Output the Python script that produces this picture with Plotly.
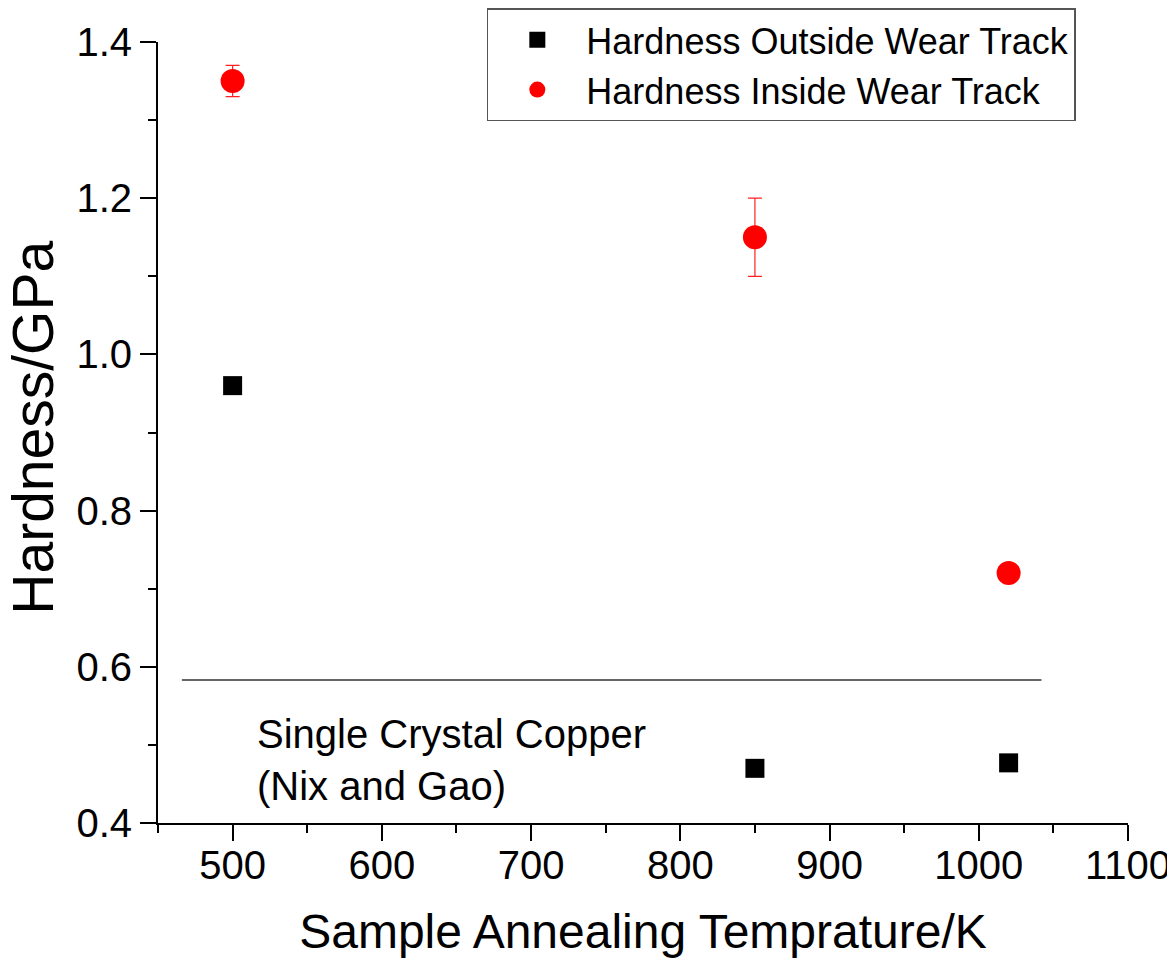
import plotly.graph_objects as go

# Data
temps_outside = [500, 850, 1020]
hardness_outside = [0.96, 0.47, 0.477]

temps_inside = [500, 850, 1020]
hardness_inside = [1.35, 1.15, 0.72]
hardness_inside_err = [0.02, 0.05, 0.01]

ref_line_x = [466, 1042]
ref_line_y = [0.583, 0.583]
ref_label = "Single Crystal Copper<br>(Nix and Gao)"

x_ticks = [500, 600, 700, 800, 900, 1000, 1100]
y_ticks = [0.4, 0.6, 0.8, 1.0, 1.2, 1.4]
y_tick_text = ["0.4", "0.6", "0.8", "1.0", "1.2", "1.4"]

x_title = "Sample Annealing Temprature/K"
y_title = "Hardness/GPa"

FONT = "Liberation Sans, Arial, sans-serif"

fig = go.Figure()

fig.add_trace(go.Scatter(
    x=ref_line_x, y=ref_line_y, mode="lines",
    line=dict(color="#333333", width=1.5),
    showlegend=False, hoverinfo="skip",
))

fig.add_trace(go.Scatter(
    x=temps_outside, y=hardness_outside, mode="markers",
    name="Hardness Outside Wear Track",
    marker=dict(symbol="square", size=19, color="black"),
))

fig.add_trace(go.Scatter(
    x=temps_inside, y=hardness_inside, mode="markers",
    name="Hardness Inside Wear Track",
    marker=dict(symbol="circle", size=24, color="#ff0000"),
    error_y=dict(type="data", array=hardness_inside_err, color="#ff2020",
                 thickness=1.2, width=7),
))

fig.add_annotation(
    x=515, y=0.481, xref="x", yref="y", text=ref_label,
    showarrow=False, xanchor="left", yanchor="middle", align="left",
    font=dict(family=FONT, size=40, color="black"),
)

# y-axis title as a rotated annotation so it can sit closer to the page edge
fig.add_annotation(
    x=-0.129, y=0.506, xref="paper", yref="paper", text=y_title,
    showarrow=False, xanchor="center", yanchor="middle", textangle=-90,
    font=dict(family=FONT, size=57, color="black"),
)

# page body has an 8px margin, so offsets are compensated here
fig.update_layout(
    width=1175, height=960,
    margin=dict(l=150, r=55, t=34, b=145, autoexpand=False),
    paper_bgcolor="white", plot_bgcolor="white",
    font=dict(family=FONT, color="black"),
    legend=dict(
        x=0.339, y=1.043, xanchor="left", yanchor="top",
        bordercolor="#555555", borderwidth=1.5, bgcolor="white",
        font=dict(family=FONT, size=36, color="black"),
        itemwidth=88, tracegroupgap=0,
    ),
    showlegend=True,
)

fig.update_xaxes(
    range=[450, 1100], tickvals=x_ticks, automargin=False,
    showline=True, linecolor="black", linewidth=2,
    ticks="outside", ticklen=16, tickwidth=2, tickcolor="black",
    minor=dict(dtick=50, tick0=450, ticks="outside", ticklen=8, tickwidth=2, tickcolor="black"),
    showgrid=False, zeroline=False, ticklabelstandoff=-10,
    tickfont=dict(family=FONT, size=40, color="black"),
    title=dict(text=x_title,
               font=dict(family=FONT, size=48, color="black"), standoff=28),
)
fig.update_yaxes(
    range=[0.4, 1.4], tickvals=y_ticks, ticktext=y_tick_text, automargin=False,
    showline=True, linecolor="black", linewidth=2,
    ticks="outside", ticklen=16, tickwidth=2, tickcolor="black",
    minor=dict(dtick=0.1, tick0=0.4, ticks="outside", ticklen=8, tickwidth=2, tickcolor="black"),
    showgrid=False, zeroline=False,
    tickfont=dict(family=FONT, size=40, color="black"),
)

fig.write_html("out.html")
